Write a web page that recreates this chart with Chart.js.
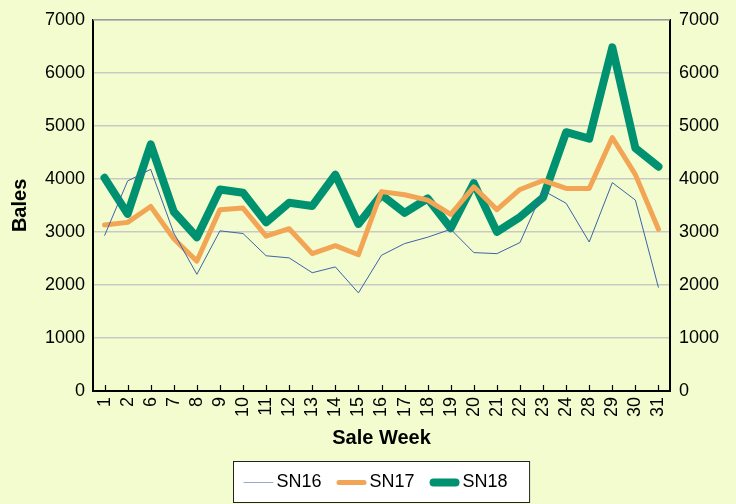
<!DOCTYPE html>
<html>
<head>
<meta charset="utf-8">
<script src="https://cdn.jsdelivr.net/npm/chart.js@4/dist/chart.umd.min.js"></script>
<style>
  html, body { margin: 0; padding: 0; background: #F2FCCE; }
  #wrap { width: 736px; height: 504px; }
</style>
</head>
<body>
<div id="wrap"><canvas id="c" width="736" height="504"></canvas></div>
<script>
'use strict';
// sale weeks and bales per season
const weeks = ['1','2','6','7','8','9','10','11','12','13','14','15','16','17','18','19','20','21','22','23','24','28','29','30','31'];
const sn16 = [2930,3960,4180,2980,2200,3020,2970,2550,2510,2230,2340,1850,2560,2780,2900,3050,2610,2590,2800,3780,3540,2810,3930,3600,1950];
const sn17 = [3130,3180,3480,2870,2450,3420,3450,2920,3060,2590,2740,2570,3760,3700,3600,3330,3850,3420,3800,3970,3820,3820,4780,4080,3050];
const sn18 = [4020,3340,4650,3380,2900,3800,3740,3180,3550,3490,4080,3150,3700,3360,3630,3070,3920,3000,3280,3650,4880,4760,6480,4580,4230];

const FONT = '"Liberation Sans", Arial, sans-serif';

// legend in a white framed box under the axis title (Excel style),
// plus the short inward tick marks on the category axis
const boxLegend = {
  id: 'boxLegend',
  afterDraw(chart) {
    const ctx = chart.ctx, ca = chart.chartArea;
    const items = chart.data.datasets;
    ctx.save();
    // inward ticks + grey top edge
    const xs = chart.scales.x;
    ctx.strokeStyle = '#000'; ctx.lineWidth = 1.2;
    ctx.beginPath();
    xs.ticks.forEach((t, i) => {
      const px = Math.round(xs.getPixelForTick(i)) + 0.5;
      ctx.moveTo(px, ca.bottom); ctx.lineTo(px, ca.bottom - 6);
    });
    ctx.stroke();
    ctx.beginPath();
    ctx.strokeStyle = '#9a9a9a'; ctx.lineWidth = 1.5;
    ctx.moveTo(ca.left, ca.top); ctx.lineTo(ca.right, ca.top);
    ctx.stroke();

    ctx.font = '18px ' + FONT;
    const lineW = 30, gap = 3, space = 15, padL = 10, padR = 22;
    const widths = items.map(d => lineW + gap + ctx.measureText(d.label).width);
    const total = widths.reduce((s, w) => s + w, 0) + space * (items.length - 1) + padL + padR;
    const h = 41, top = 461;
    const left = Math.round((ca.left + ca.right) / 2 - total / 2) + 0.5;
    ctx.fillStyle = '#fff';
    ctx.fillRect(left, top + 0.5, total, h);
    ctx.strokeStyle = '#222'; ctx.lineWidth = 1;
    ctx.strokeRect(left, top + 0.5, total, h);
    let x = left + padL;
    const cy = top + h / 2 + 1;
    items.forEach((d, i) => {
      ctx.beginPath();
      ctx.lineCap = 'round';
      ctx.strokeStyle = i === 0 ? '#93A9CF' : d.borderColor;
      ctx.lineWidth = d.borderWidth;
      ctx.moveTo(x + d.borderWidth / 2, cy); ctx.lineTo(x + lineW - d.borderWidth / 2, cy);
      ctx.stroke();
      ctx.fillStyle = '#000'; ctx.textBaseline = 'middle'; ctx.textAlign = 'left';
      ctx.fillText(d.label, x + lineW + gap, cy);
      x += widths[i] + space;
    });
    ctx.restore();
  }
};

const plain = v => String(v);
const yTicks = { stepSize: 1000, color: '#000', font: { size: 18, family: FONT }, callback: plain };

new Chart(document.getElementById('c').getContext('2d'), {
  type: 'line',
  data: {
    labels: weeks,
    datasets: [
      { label: 'SN16', data: sn16, borderColor: '#3D62AA', borderWidth: 1, pointRadius: 0, tension: 0 },
      { label: 'SN17', data: sn17, borderColor: '#F2A555', borderWidth: 5, pointRadius: 0, tension: 0, borderJoinStyle: 'round', borderCapStyle: 'round' },
      { label: 'SN18', data: sn18, borderColor: '#009270', borderWidth: 8, pointRadius: 0, tension: 0, borderJoinStyle: 'round', borderCapStyle: 'round' }
    ]
  },
  options: {
    responsive: false,
    animation: false,
    layout: { padding: { top: 18, bottom: 0, left: 0, right: 0 } },
    plugins: { legend: { display: false }, tooltip: { enabled: false } },
    scales: {
      x: {
        offset: true,
        grid: { offset: false, drawOnChartArea: false, drawTicks: false },
        border: { color: '#000', width: 2 },
        ticks: { color: '#000', font: { size: 18, family: FONT }, maxRotation: 90, minRotation: 90, autoSkip: false, padding: 6 },
        title: { display: true, text: 'Sale Week', color: '#000', font: { size: 20, weight: 'bold', family: FONT }, padding: { top: 0, bottom: 54 } },
        afterFit(s) { s.height = 113; }
      },
      y: {
        position: 'left', min: 0, max: 7000,
        grid: { color: '#C9C9C4', lineWidth: 1.5, drawTicks: false },
        border: { color: '#000', width: 2 },
        ticks: Object.assign({ padding: 8 }, yTicks),
        title: { display: true, text: 'Bales', color: '#000', font: { size: 20, weight: 'bold', family: FONT }, padding: { top: 8, bottom: 0 } },
        afterFit(s) { s.width = 93; }
      },
      y2: {
        position: 'right', min: 0, max: 7000,
        grid: { drawOnChartArea: false, drawTicks: false },
        border: { color: '#000', width: 2 },
        ticks: Object.assign({ padding: 9 }, yTicks),
        afterFit(s) { s.width = 66; }
      }
    }
  },
  plugins: [boxLegend]
});
</script>
</body>
</html>
